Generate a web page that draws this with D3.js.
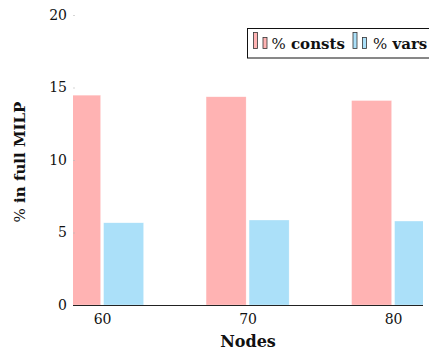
<!DOCTYPE html>
<html><head><meta charset="utf-8">
<script src="https://cdn.jsdelivr.net/npm/d3@7"></script>
<style>
html,body{margin:0;padding:0;background:#fff;overflow:hidden}
svg{display:block}
</style></head>
<body>
<svg id="c" width="429" height="354"></svg>
<script>
const nodes = [60, 70, 80];
const pctConsts = [14.47, 14.36, 14.1];
const pctVars = [5.67, 5.86, 5.79];
const yTicks = [0, 5, 10, 15, 20];
const seriesNames = ["consts", "vars"];

(function(){
const plotL = 73, plotR = 423, plotT = 15, plotB = 305;
const serif = "'DejaVu Serif', serif";
const bold = "'DejaVu Serif', serif";
const svg = d3.select("#c");

const x = d3.scaleLinear().domain([58, 82]).range([plotL, plotL + (82-58)*14.55]);
const y = d3.scaleLinear().domain([0, 20]).range([plotB, plotT]);

const pink = "#ffb3b3", blue = "#abe0f9";

svg.append("clipPath").attr("id","clip").append("rect")
  .attr("x", plotL).attr("y", 0).attr("width", plotR-plotL).attr("height", plotB+1);

const g = svg.append("g").attr("clip-path","url(#clip)");
const bw = 40;
g.selectAll("rect.c").data(nodes).join("rect")
  .attr("x", d => x(d) - 1.5 - bw).attr("width", bw)
  .attr("y", (d,i) => y(pctConsts[i])).attr("height", (d,i) => y(0) - y(pctConsts[i]))
  .attr("fill", pink).attr("stroke", "#fff").attr("stroke-opacity",0.5).attr("stroke-width",0.5);
g.selectAll("rect.v").data(nodes).join("rect")
  .attr("x", d => x(d) + 1.5).attr("width", bw)
  .attr("y", (d,i) => y(pctVars[i])).attr("height", (d,i) => y(0) - y(pctVars[i]))
  .attr("fill", blue).attr("stroke", "#fff").attr("stroke-opacity",0.5).attr("stroke-width",0.5);

const yAxis = d3.axisLeft(y).tickValues(yTicks).tickSize(-2).tickPadding(6).tickFormat(d3.format("d"));
const ya = svg.append("g").attr("transform", `translate(${plotL},0)`).call(yAxis)
  .attr("font-family", serif).attr("font-size", 14);
ya.select(".domain").remove();
ya.selectAll(".tick line").attr("stroke", "#bbb").attr("stroke-width", 0.6);
ya.selectAll(".tick text").attr("x", -6).attr("fill","#111").attr("font-family", serif).attr("font-size", 14);

const xAxis = d3.axisBottom(x).tickValues(nodes).tickSize(0).tickPadding(9).tickFormat(d3.format("d"));
const xa = svg.append("g").attr("transform", `translate(0,${plotB})`).call(xAxis)
  .attr("font-family", serif).attr("font-size", 14);
xa.select(".domain").remove();
xa.selectAll(".tick text").attr("fill","#111").attr("font-family", serif).attr("font-size", 14);
svg.append("line").attr("x1", plotL).attr("x2", plotR).attr("y1", plotB+0.5).attr("y2", plotB+0.5)
  .attr("stroke", "#222").attr("stroke-width", 1.2);

svg.append("text").attr("x", 248).attr("y", 347).attr("text-anchor","middle")
  .attr("font-family", bold).attr("fill","#111")
  .attr("font-size", 16).attr("font-weight","bold").text("Nodes");
svg.append("text").attr("transform","translate(25,162) rotate(-90)").attr("text-anchor","middle")
  .attr("font-family", bold).attr("fill","#111")
  .attr("font-size", 15).attr("font-weight","bold")
  .call(t => { t.append("tspan").attr("font-weight","normal").text("%"); t.append("tspan").text(" in full MILP"); });

const lg = svg.append("g");
lg.append("rect").attr("x", 247.5).attr("y", 28.5).attr("width", 200).attr("height", 29.5)
  .attr("fill", "#fff").attr("stroke", "#111").attr("stroke-width", 1);
const legendItems = [{name: seriesNames[0], color: pink, x: 253, tx: 271.5}, {name: seriesNames[1], color: blue, x: 352.5, tx: 373}];
legendItems.forEach(it => {
  lg.append("rect").attr("x", it.x + 0.5).attr("y", 32.5).attr("width", 4).attr("height", 16)
    .attr("fill", it.color).attr("stroke", "#333").attr("stroke-width", 0.8);
  lg.append("rect").attr("x", it.x + 10).attr("y", 37.5).attr("width", 4).attr("height", 11)
    .attr("fill", it.color).attr("stroke", "#333").attr("stroke-width", 0.8);
  const t = lg.append("text").attr("x", it.tx).attr("y", 48.5).attr("font-size", 15)
    .attr("font-family", bold).attr("fill","#111");
  t.append("tspan").attr("font-size", 15).text("%");
  t.append("tspan").attr("font-weight","bold").text(" " + it.name);
});
})();
</script>
</body></html>
